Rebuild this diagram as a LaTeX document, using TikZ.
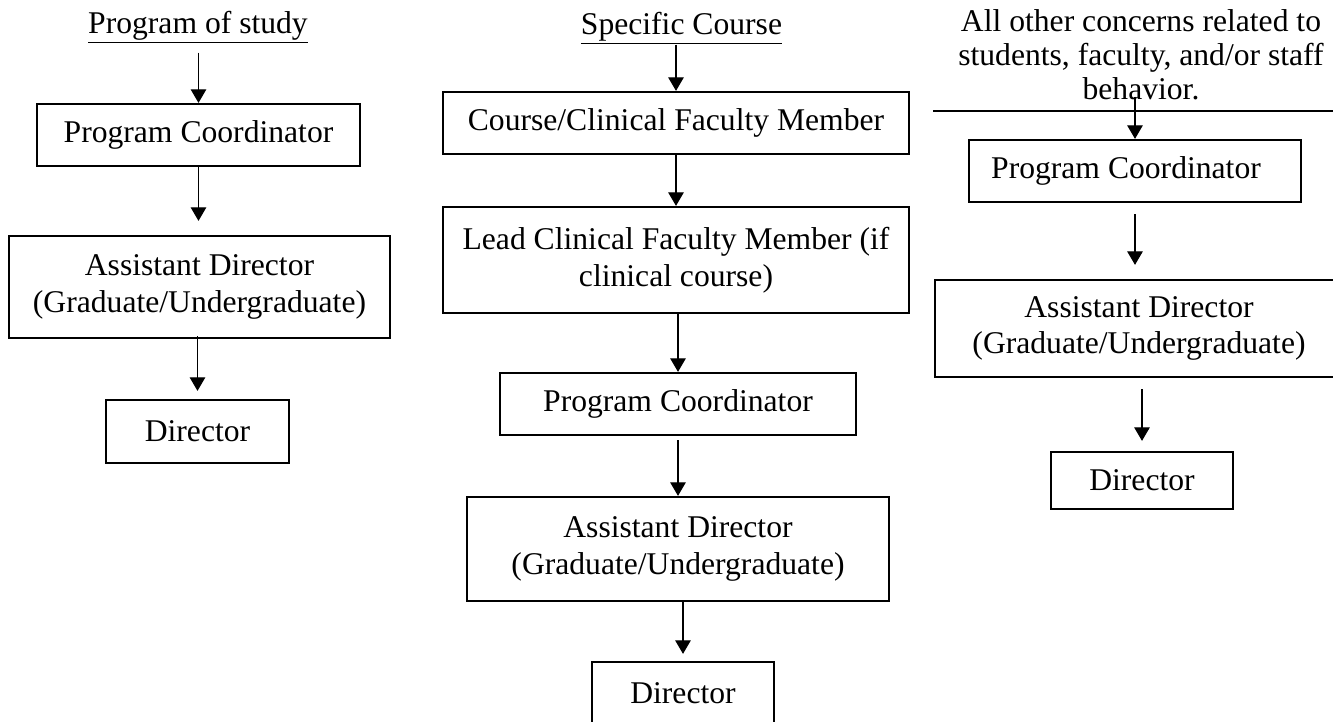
\documentclass[tikz,border=0pt]{standalone}
\usepackage{fontspec}
\setmainfont{Liberation Serif}
\usetikzlibrary{arrows.meta}
\begin{document}
\begin{tikzpicture}[x=0.02cm,y=-0.02cm,
  box/.style={draw, line width=1.3pt, align=center, inner sep=0pt,
    font=\fontsize{18pt}{20.8pt}\selectfont},
  head/.style={inner sep=0pt, align=center, font=\fontsize{18pt}{19.4pt}\selectfont},
  arr/.style={line width=0.6pt, -{Triangle[width=0.31cm,length=0.27cm]}}]
\useasboundingbox (0,0) rectangle (1333,721);
\clip (0,0) rectangle (1333,721);
% column 1
\node[head, anchor=base] (t1) at (198,33) {\underline{Program of study}};
\node[box, minimum width=6.46cm, minimum height=1.24cm] (pc1) at (198.5,135) {Program Coordinator};
\node[box, minimum width=7.62cm, minimum height=2.04cm] (ad1) at (199.5,287) {Assistant Director\\(Graduate/Undergraduate)};
\node[box, minimum width=3.66cm, minimum height=1.26cm] (d1) at (197.5,431.5) {Director};
\draw[arr, shorten <=0.18cm] (t1.south -| pc1.north) -- (pc1.north);
\draw[arr, shorten >=0.28cm] (pc1.south) -- (pc1.south |- ad1.north);
\draw[arr, shorten <=-0.06cm, shorten >=0.16cm] (ad1.south -| d1.north) -- (d1.north);
% column 2
\node[head, anchor=base] (t2) at (681.5,34) {\underline{Specific Course}};
\node[box, minimum width=9.32cm, minimum height=1.24cm] (ccf) at (676,123) {Course/Clinical Faculty Member};
\node[box, minimum width=9.32cm, minimum height=2.12cm] (lcf) at (676,260) {Lead Clinical Faculty Member (if\\clinical course)};
\node[box, minimum width=7.12cm, minimum height=1.24cm] (pc2) at (678,404) {Program Coordinator};
\node[box, minimum width=8.44cm, minimum height=2.08cm] (ad2) at (678,549) {Assistant Director\\(Graduate/Undergraduate)};
\node[box, minimum width=3.64cm, minimum height=1.26cm] (d2) at (683,693.5) {Director};
\draw[arr] (t2.south -| ccf.north) -- (ccf.north);
\draw[arr] (ccf.south) -- (ccf.south |- lcf.north);
\draw[arr] (lcf.south -| pc2.north) -- (pc2.north);
\draw[arr, shorten <=0.08cm] (pc2.south) -- (pc2.south |- ad2.north);
\draw[arr, shorten >=0.14cm] (ad2.south -| d2.north) -- (d2.north);
% column 3
\node[head] (t3) at (1141,55) {All other concerns related to\\students, faculty, and/or staff\\behavior.};
\coordinate (hl1) at (933,111);
\coordinate (hl2) at (1345,111);
\draw[line width=0.6pt] (hl1) -- (hl2);
\node[box, minimum width=6.64cm, minimum height=1.24cm] (pc3) at (1135,171) {Program Coordinator\hspace{0.36cm}};
\node[box, minimum width=8.16cm, minimum height=1.94cm] (ad3) at (1139,328.5) {Assistant Director\\(Graduate/Undergraduate)};
\node[box, minimum width=3.64cm, minimum height=1.14cm] (d3) at (1142,480.5) {Director};
\draw[arr, shorten <=-0.08cm] (t3.south -| pc3.north) -- (pc3.north);
\draw[arr, shorten <=0.22cm, shorten >=0.28cm] (pc3.south) -- (pc3.south |- ad3.north);
\draw[arr, shorten <=0.22cm, shorten >=0.2cm] (ad3.south -| d3.north) -- (d3.north);
\end{tikzpicture}
\end{document}
